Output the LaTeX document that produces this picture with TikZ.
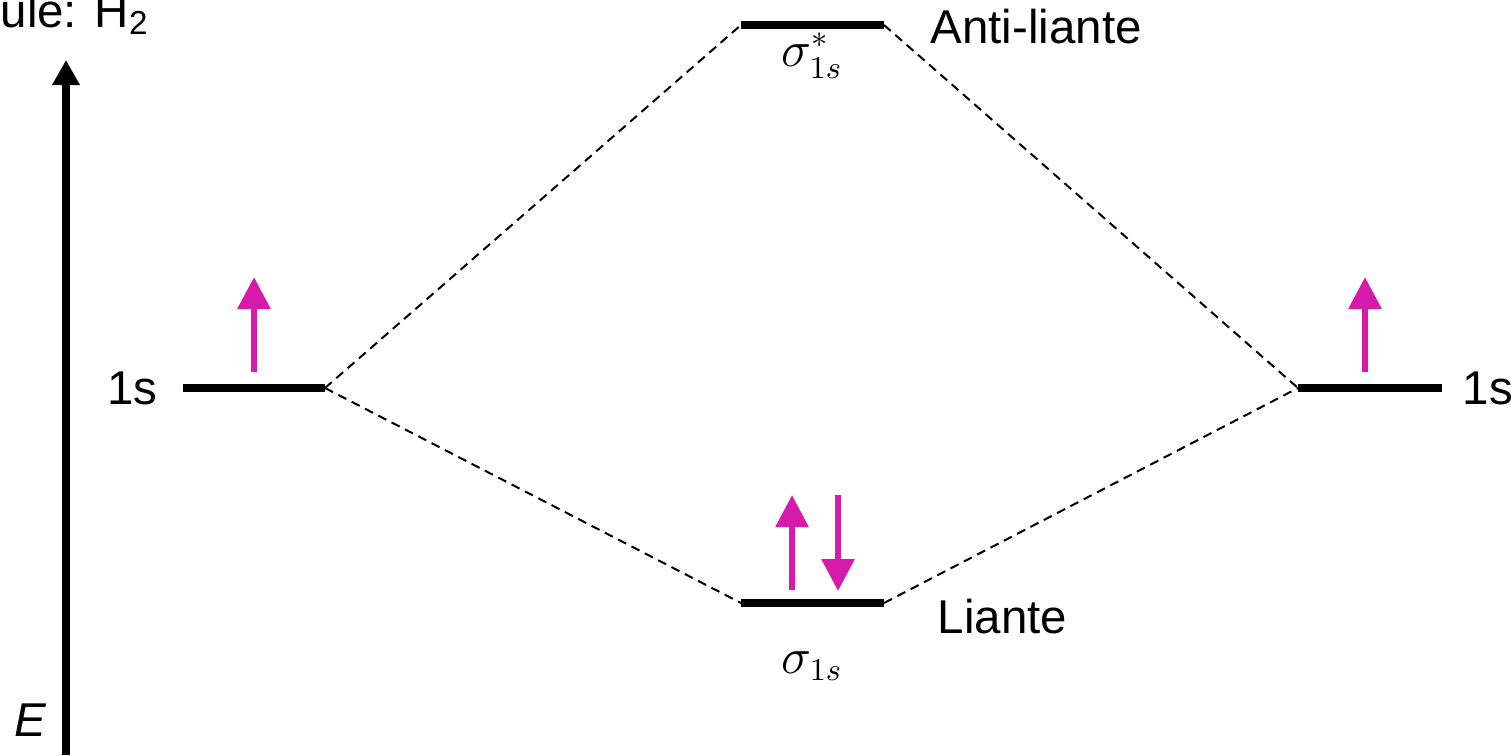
\documentclass[tikz,border=0pt]{standalone}
\usepackage{amsmath}
\usepackage{fontspec}
\setmainfont{Liberation Sans}
\usepackage{tikz}
\usetikzlibrary{arrows.meta, calc, positioning}
\usepackage{xcolor}
\definecolor{spincol}{RGB}{214,27,170}
\tikzset{
  lvl/.style     ={line width=0.08cm},                                     % energy level
  corr/.style    ={line width=0.02cm, dash pattern=on 0.09cm off 0.06cm},  % correlation line
  spinup/.style  ={-{Triangle[width=0.32cm, length=0.32cm]}, line width=0.06cm, spincol},
  axisarr/.style ={-{Triangle[width=0.26cm, length=0.25cm]}, line width=0.08cm},
  lbl/.style     ={font=\fontsize{13.5}{16}\selectfont, inner sep=0pt},
  mlbl/.style    ={font=\fontsize{13.5}{16}\selectfont, inner sep=0pt, anchor=base},
}

\begin{document}
\begin{tikzpicture}
  \useasboundingbox (0,0) rectangle (15.11,7.55);
  % energy axis
  \coordinate (E0) at (0.66,0);
  \coordinate (E1) at (0.66,6.95);
  \draw[axisarr] (E0) -- (E1);
  \node[lbl, font=\fontsize{13.5}{16}\selectfont\itshape] (Elbl) at (0.30,0.35) {E};
  \node[lbl, anchor=base west] (title) at (0,7.28) {ule: H\textsubscript{2}};
  % levels
  \coordinate (La) at (1.83,3.67);  \coordinate (Lb) at (3.25,3.67);
  \coordinate (Ra) at (12.98,3.67); \coordinate (Rb) at (14.42,3.67);
  \coordinate (Aa) at (7.41,7.30);  \coordinate (Ab) at (8.84,7.30);
  \coordinate (Ba) at (7.41,1.52);  \coordinate (Bb) at (8.84,1.52);
  \draw[lvl] (La) -- (Lb);
  \draw[lvl] (Ra) -- (Rb);
  \draw[lvl] (Aa) -- (Ab);
  \draw[lvl] (Ba) -- (Bb);
  \draw[corr] (Lb) -- (Aa);
  \draw[corr] (Lb) -- (Ba);
  \draw[corr] (Ab) -- (Ra);
  \draw[corr] (Bb) -- (Ra);
  % labels
  \node[lbl, left=0.25cm of La]  (s1L) {1s};
  \node[lbl, right=0.20cm of Rb] (s1R) {1s};
  \node[lbl, anchor=west] (anti) at (9.30,7.28) {Anti-liante};
  \node[lbl, anchor=west] (lia)  at (9.37,1.38) {Liante};
  \node[mlbl] (sigA) at (8.12,6.89) {$\sigma_{1s}^{*}$};
  \node[mlbl] (sigB) at (8.12,0.82) {$\sigma_{1s}$};
  % electrons
  \coordinate (uL0) at (2.54,3.83);  \coordinate (uL1) at (2.54,4.78);
  \coordinate (uR0) at (13.65,3.83); \coordinate (uR1) at (13.65,4.78);
  \coordinate (uB0) at (7.92,1.65);  \coordinate (uB1) at (7.92,2.60);
  \coordinate (dB0) at (8.38,2.60);  \coordinate (dB1) at (8.38,1.64);
  \draw[spinup] (uL0) -- (uL1);
  \draw[spinup] (uR0) -- (uR1);
  \draw[spinup] (uB0) -- (uB1);
  \draw[spinup] (dB0) -- (dB1);
\end{tikzpicture}
\end{document}
